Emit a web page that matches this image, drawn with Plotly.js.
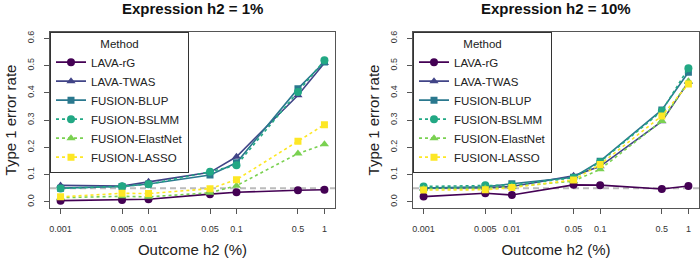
<!DOCTYPE html>
<html>
<head>
<meta charset="utf-8">
<script src="https://cdn.plot.ly/plotly-3.0.1.min.js"></script>
<style>html,body{margin:0;padding:0;background:#fff;}#chart{width:700px;height:259px;}</style>
</head>
<body>
<div id="chart"></div>
<script>
// ---- data ----
const outcomeH2 = [0.001, 0.005, 0.01, 0.05, 0.1, 0.5, 1];
const outcomeTickText = ['0.001', '0.005', '0.01', '0.05', '0.1', '0.5', '1'];
const yTickVals = [0, 0.1, 0.2, 0.3, 0.4, 0.5, 0.6];
const yTickText = ['0.0', '0.1', '0.2', '0.3', '0.4', '0.5', '0.6'];
const methods = ['LAVA-rG', 'LAVA-TWAS', 'FUSION-BLUP', 'FUSION-BSLMM', 'FUSION-ElastNet', 'FUSION-LASSO'];
const panelTitles = ['Expression h2 = 1%', 'Expression h2 = 10%'];
const alphaLevel = 0.05;

// Expression h2 = 1%
const e1_lavaRG    = [0.004, 0.006, 0.009, 0.028, 0.035, 0.042, 0.044];
const e1_lavaTWAS  = [0.060, 0.058, 0.073, 0.108, 0.165, 0.391, 0.509];
const e1_blup      = [0.050, 0.056, 0.065, 0.098, 0.143, 0.415, 0.513];
const e1_bslmm     = [0.049, 0.057, 0.064, 0.110, 0.134, 0.403, 0.519];
const e1_elastnet  = [0.015, 0.020, 0.018, 0.033, 0.059, 0.177, 0.211];
const e1_lasso     = [0.018, 0.031, 0.030, 0.048, 0.081, 0.222, 0.283];

// Expression h2 = 10%
const e10_lavaRG   = [0.019, 0.031, 0.025, 0.062, 0.061, 0.047, 0.058];
const e10_lavaTWAS = [0.050, 0.052, 0.056, 0.095, 0.130, 0.295, 0.440];
const e10_blup     = [0.050, 0.055, 0.066, 0.090, 0.149, 0.337, 0.475];
const e10_bslmm    = [0.056, 0.061, 0.061, 0.088, 0.146, 0.333, 0.490];
const e10_elastnet = [0.048, 0.050, 0.055, 0.076, 0.119, 0.296, 0.442];
const e10_lasso    = [0.043, 0.044, 0.052, 0.080, 0.137, 0.315, 0.432];

const panel1 = [e1_lavaRG, e1_lavaTWAS, e1_blup, e1_bslmm, e1_elastnet, e1_lasso];
const panel2 = [e10_lavaRG, e10_lavaTWAS, e10_blup, e10_bslmm, e10_elastnet, e10_lasso];

// ---- styles ----
const colors = ['#440154', '#414487', '#2A788E', '#22A884', '#7AD151', '#FDE725'];
const symbols = ['circle', 'triangle-up', 'square', 'circle', 'triangle-up', 'square'];
const dashes = ['solid', 'solid', 'solid', '3px,3px', '3px,3px', '3px,3px'];
const FONT = 'Liberation Sans, Arial, Helvetica, sans-serif';

const traces = [];
[panel1, panel2].forEach((panel, p) => {
  panel.forEach((vals, i) => {
    traces.push({
      x: outcomeH2, y: vals, name: methods[i], type: 'scatter', mode: 'lines+markers',
      xaxis: p === 0 ? 'x' : 'x2', yaxis: p === 0 ? 'y' : 'y2',
      legend: p === 0 ? 'legend' : 'legend2',
      line: {color: colors[i], width: 1.6, dash: dashes[i]},
      marker: {color: colors[i], symbol: symbols[i], size: symbols[i] === 'square' ? 7 : 8},
      showlegend: true
    });
  });
});

const xRange = [Math.log10(outcomeH2[0]) - 0.12, Math.log10(outcomeH2[outcomeH2.length - 1]) + 0.12];
function xAxis(domain, anchor) {
  return {
    domain: domain, anchor: anchor, type: 'log', range: xRange,
    tickvals: outcomeH2, ticktext: outcomeTickText,
    showline: true, mirror: true, linecolor: '#555', linewidth: 1,
    ticks: 'outside', ticklen: 5, tickcolor: '#555', ticklabelstandoff: 7,
    tickfont: {size: 9, color: '#333', family: FONT},
    showgrid: false, zeroline: false,
    title: {text: 'Outcome h2 (%)', font: {size: 15, color: '#222', family: FONT}, standoff: 11}
  };
}
function yAxis(domain, anchor) {
  return {
    domain: domain, anchor: anchor, range: [-0.024, 0.624],
    tickvals: yTickVals, ticktext: yTickText, tickangle: -90,
    showline: true, mirror: true, linecolor: '#555', linewidth: 1,
    ticks: 'outside', ticklen: 5, tickcolor: '#555', ticklabelstandoff: 6,
    tickfont: {size: 9, color: '#333', family: FONT},
    showgrid: false, zeroline: false,
    title: {text: 'Type 1 error rate', font: {size: 15, color: '#222', family: FONT}, standoff: 6}
  };
}
const yDom = [50.7 / 259, 227.3 / 259];
const x1Dom = [50 / 700, 335 / 700];
const x2Dom = [413 / 700, 699 / 700];

function legendCfg(xPaper) {
  return {
    x: xPaper, y: yDom[1], xanchor: 'left', yanchor: 'top', xref: 'paper', yref: 'paper',
    bgcolor: '#fff', bordercolor: '#333', borderwidth: 1,
    font: {size: 11.5, color: '#222', family: FONT},
    title: {text: 'Method', side: 'top center', font: {size: 11.5, color: '#222', family: FONT}},
    itemwidth: 30, tracegroupgap: 0
  };
}

const layout = {
  width: 700, height: 259,
  margin: {l: 0, r: 0, t: 0, b: 0},
  paper_bgcolor: '#fff', plot_bgcolor: '#fff',
  font: {family: FONT},
  xaxis: xAxis(x1Dom, 'y'), yaxis: yAxis(yDom, 'x'),
  xaxis2: xAxis(x2Dom, 'y2'), yaxis2: yAxis(yDom, 'x2'),
  legend: legendCfg(x1Dom[0]),
  legend2: legendCfg(x2Dom[0]),
  shapes: [
    {type: 'line', xref: 'x domain', yref: 'y', x0: 0, x1: 1, y0: alphaLevel, y1: alphaLevel,
     line: {color: '#bbbbbb', width: 2, dash: '6px,4px'}, layer: 'below'},
    {type: 'line', xref: 'x2 domain', yref: 'y2', x0: 0, x1: 1, y0: alphaLevel, y1: alphaLevel,
     line: {color: '#bbbbbb', width: 2, dash: '6px,4px'}, layer: 'below'}
  ],
  annotations: [
    {text: '<b>' + panelTitles[0] + '</b>', xref: 'paper', yref: 'paper', x: 193 / 700, y: 1 - 8 / 259,
     xanchor: 'center', yanchor: 'middle', showarrow: false, font: {size: 15, color: '#111', family: FONT}},
    {text: '<b>' + panelTitles[1] + '</b>', xref: 'paper', yref: 'paper', x: 556 / 700, y: 1 - 8 / 259,
     xanchor: 'center', yanchor: 'middle', showarrow: false, font: {size: 15, color: '#111', family: FONT}}
  ]
};

Plotly.newPlot('chart', traces, layout, {displayModeBar: false, staticPlot: true});
</script>
</body>
</html>
